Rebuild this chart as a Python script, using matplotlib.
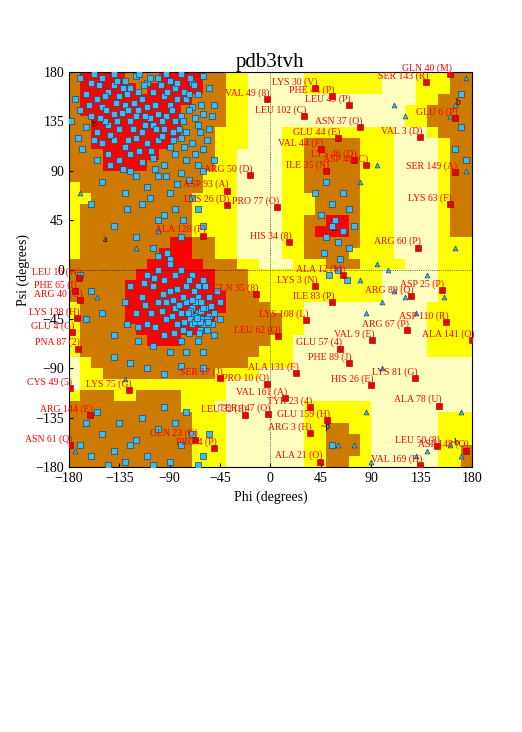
import re
import numpy as np
import matplotlib
matplotlib.use('Agg')
import matplotlib.pyplot as plt

plt.rcParams['font.family'] = ['Liberation Serif', 'DejaVu Serif']

# region map, 10 degree cells, rows psi 180 -> -180, run-length coded
# R core, B allowed, Y generous, P disallowed
region_rows = [
    "B1R4B3R4B2Y2P5Y7P3Y3B2", "B1R5B1R5B2Y2P5Y7P3Y3B2", "B1R10B3Y2P15Y2B3",
    "B1R9B4Y2P14Y2B4", "B2R8B4Y2P14Y2B4", "B2R8B3Y3P3Y10P3Y1B3",
    "B2R7B4Y3P3Y2B5Y3P4Y1B2", "B3R5B5Y2P4Y2B5Y3P4Y1B2", "B3R4B6Y2P4Y2B5Y3P4Y1B2",
    "B12Y3P4Y2B5Y3P4Y1B2", "Y1B11Y3P4Y2B5Y3P4Y1B2", "Y2B9Y4P4Y3B4Y3P4Y1B2",
    "Y1B10Y4P4Y3B4Y3P4Y1B2", "Y1B10Y4P4Y2B2R2B1Y3P4Y1B2", "Y1B10Y4P4Y2B1R3B1Y3P4Y1B2",
    "Y1B8R2B2Y2P4Y2B5Y3P4Y3", "Y1B7R3B2Y2P4Y2B4Y4P4Y3", "B7R5B3Y2P3Y3B3Y4P3Y3",
    "B6R7B3Y12P5Y3", "B5R8B3Y12P5Y3", "B5R9B3Y11P5Y3",
    "Y1B4R9B4Y3P11Y4", "Y1B4R8B6Y2P11Y4", "Y1B5R6B7Y2P11Y4",
    "Y1B6R3B8Y2P12Y4", "Y1B16Y3P12Y4", "P1Y1B14Y4P16",
    "P1Y2B10Y4P19", "P1Y13P22", "Y1B3Y2B4Y4P22",
    "B10Y3P8Y6P9", "B11Y3P7Y6P6Y3", "B11Y3P7Y2B2Y2P6Y3",
    "B11Y3P7Y2B3Y1P6Y3", "B11Y3P7Y2B3Y1P6Y2B1", "B11Y3P7Y2B2Y2P6Y2B1",
]
region_colors = {'R': '#ff0000', 'B': '#cc7a00', 'Y': '#ffff00', 'P': '#ffffc0'}

beta_pts = [(-170,175),(-160,170),(-150,175),(-140,178),(-130,172),(-120,176),(-110,170),(-100,175),(-90,172),(-80,178),(-70,170),(-60,176),
    (-165,160),(-155,155),(-145,162),(-135,158),(-125,165),(-115,155),(-105,162),(-95,158),(-85,165),(-75,155),(-65,160),(-55,165),
    (-170,145),(-160,140),(-150,148),(-140,142),(-130,150),(-120,140),(-110,148),(-100,142),(-90,150),(-80,140),(-70,148),(-60,142),(-50,150),
    (-165,130),(-155,125),(-145,132),(-135,128),(-125,135),(-115,125),(-105,132),(-95,128),(-85,135),(-75,125),(-65,132),(-55,128),
    (-150,115),(-140,118),(-130,112),(-120,120),(-110,115),(-100,118),(-90,112),(-80,120),(-70,115),(-60,110),
    (-135,100),(-125,105),(-115,98),(-105,102),(-95,95),(-85,105),(-75,100),(-65,95),
    (-140,168),(-128,160),(-118,145),(-108,138),(-98,168),(-88,145),(-78,135),(-68,168),(-148,135),(-138,152),(-123,128),(-113,168),
    (-103,150),(-93,140),(-83,155),(-73,145),(-63,125),(-158,118),(-145,105),(-132,92),(-120,85),(-100,85),(-80,88),(-60,90),(-50,100),
    (-175,155),(-178,135),(-172,120),(-110,75),(-90,70),(-130,70),(-70,65),(-150,80),(-115,60),(-85,55),(-100,45),(-140,40),(-120,30),
    (-80,30),(-60,40),(-160,60),(-105,20),(-90,10),(-133,143),(-143,123),(-153,168),(-117,178),(-97,122),(-87,118),(-77,162),(-67,138),
    (-57,118),(-127,118),(-137,172),(-107,108),(-162,150),(-152,138),(-112,132),(-92,162),(-72,175),(-82,128),(-122,152),(-102,128),
    (-158,178),(-148,158),(-132,165),(-118,162),(-108,175),(-93,178),(-83,170),(-73,160),(-62,150),(-52,140),(-147,145),(-137,135),
    (-127,145),(-112,140),(-97,135),(-87,125),(-77,112),(-67,105),(-117,108),(-103,92),(-93,85),(-83,78),(-73,82),(-143,95),(-155,100),
    (-168,110),(-125,90),(-108,65),(-95,50),(-78,45),(-65,55),(-128,55)]
alpha_pts = [(-65,-40),(-60,-45),(-70,-35),(-62,-38),(-68,-42),(-58,-35),(-72,-45),(-55,-42),(-75,-30),(-65,-25),(-60,-50),(-70,-50),
    (-80,-40),(-78,-25),(-85,-35),(-90,-20),(-95,-10),(-85,-5),(-75,-15),(-65,-15),(-55,-25),(-50,-40),(-52,-50),(-63,-55),(-73,-58),
    (-83,-50),(-93,-45),(-100,-30),(-105,-15),(-110,-5),(-100,0),(-90,5),(-80,0),(-70,-5),(-60,-10),(-115,-25),(-120,-40),(-110,-50),
    (-95,-60),(-80,-65),(-65,-65),(-50,-60),(-45,-45),(-45,-30),(-48,-20),(-58,-15),(-67,-30),(-77,-48),(-87,-28),(-97,-38),(-107,-40),
    (-67,-48),(-57,-55),(-125,-15),(-130,-30),(-128,-50),(-118,-65),(-105,-70),(-90,-75),(-75,-75),(-60,-75),(-140,-60),(-150,-40),
    (-160,-20),(-140,-80),(-125,-85),(-110,-90),(-95,-95),(-80,-88),(-60,-90),(-170,-5),(-165,-45),(-62,-30),(-72,-38),(-57,-45),
    (-68,-20),(-78,-55),(-88,-42),(-53,-33),(-63,-48),(-73,-10),(-83,-18),(-93,-30),(-103,-52),(-113,-12),(-92,15),(-100,12),
    (-60,-35),(-66,-44),(-70,-28),(-74,-40),(-56,-48),(-64,-58),(-82,-32),(-86,-58),(-96,-22),(-104,-8),(-112,-32),(-118,-52)]
lower_pts = [(-170,-160),(-160,-170),(-150,-150),(-140,-165),(-130,-175),(-120,-155),(-110,-170),(-100,-145),(-90,-175),(-80,-160),
    (-70,-150),(-60,-170),(-155,-130),(-135,-140),(-115,-135),(-95,-125),(-75,-130),(-165,-140),(-145,-178),(-125,-160),(-105,-178),
    (-85,-140),(-65,-178),(-55,-150),(50,30),(55,40),(60,25),(65,35),(58,45),(45,50),(70,20),(48,15),(62,10),(55,60),(40,70),(50,80),
    (70,55),(65,70),(75,40),(60,0),(52,-5),(68,-10),(165,110),(170,130),(175,100),(170,160),(55,-160)]
gly_pts = [(80,-10),(95,5),(110,-20),(120,-25),(100,-30),(130,-40),(165,20),(170,-130),(165,150),(175,90),(100,-90),(75,-160),
    (90,-175),(130,-170),(140,-165),(160,-160),(170,-170),(-170,70),(-130,-100),(-100,35),(-120,20),(60,-160),(45,-175),(85,-130),
    (-155,-25),(-175,-165),(110,150),(120,140),(175,175),(80,80),(95,95),(155,-25),(160,140),(140,-5),(105,0),(85,-40)]

out_phi = [-3,-18,-39,-39,6,17,-60,132,134,139,160,165,165,160,-171,-175,-170,-173,-177,-172,-13,7,23,-3,13,-2,-45,-126,-179,-161,
    -23,-67,-50,-179,51,35,44,149,134,175,151,129,153,157,180,122,91,62,32,126,40,55,70,30,80,60,45,75,85,50,65,40,55,70,90,35]
out_psi = [155,86,72,59,57,25,31,20,121,171,178,138,89,60,-8,-20,-28,-44,-57,-72,-22,-61,-94,-104,-117,-132,-99,-110,-108,-133,
    -133,-155,-163,-160,-137,-149,-175,-161,-178,-165,-124,-99,-19,-48,-64,-55,-64,-72,-46,-24,165,158,150,140,130,120,110,100,95,
    90,-5,-15,-30,-85,-105,-125]
out_lab = ['VAL 49 (8)','ARG 50 (D)','ASP 93 (A)','LYS 26 (D)','PRO 77 (O)','HIS 34 (8)','ALA 128 (F)','ARG 60 (P)','VAL 3 (D)',
    'SER 143 (R)','GLN 40 (M)','GLU 6 (P)','SER 149 (A)','LYS 63 (F)','LEU 16 (W)','PHE 65 (I)','ARG 40 (U)','LYS 138 (H)',
    'GLU 4 (G)','PNA 87 (2)','CLN 35 (8)','LEU 62 (O)','ALA 131 (F)','PRO 10 (O)','VAL 161 (A)','TER 147 (O)','SER 17 (J)',
    'LYS 75 (G)','CYS 49 (5)','ARG 144 (E)','LEU 32 (E)','GLN 23 (O)','PRO 4 (P)','ASN 61 (Q)','GLU 159 (H)','ARG 3 (H)',
    'ALA 21 (O)','LEU 50 (8)','VAL 169 (H)','ASP 148 (O)','ALA 78 (U)','LYS 81 (G)','ASP 25 (P)','ASP 110 (R)','ALA 141 (O)',
    'ARG 67 (P)','VAL 9 (E)','GLU 57 (4)','LYS 108 (L)','ARG 89 (Q)','LYS 30 (V)','PHE 44 (P)','LEU 49 (P)','LEU 102 (C)',
    'ASN 37 (O)','GLU 44 (E)','VAL 44 (F)','LYS 46 (D)','ASP 46 (C)','ILE 35 (N)','ALA 12 (M)','LYS 3 (N)','ILE 83 (P)',
    'PHE 89 (J)','HIS 26 (E)','TYR 23 (4)']

fig = plt.figure(figsize=(5.22, 7.32), dpi=100)
ax = fig.add_axes([0.132, 0.362, 0.772, 0.5396])

grid = []
for row in region_rows:
    cells = []
    for code, n in re.findall(r'([RBYP])(\d+)', row):
        cells += [code] * int(n)
    grid.append([matplotlib.colors.to_rgb(region_colors[c]) for c in cells[:36]])
ax.imshow(np.array(grid), extent=[-180, 180, -180, 180], origin='upper', aspect='auto', interpolation='nearest', zorder=0)
ax.axhline(0, color='black', lw=0.5, ls=':', zorder=1)
ax.axvline(0, color='black', lw=0.5, ls=':', zorder=1)

for pts in (beta_pts, alpha_pts, lower_pts):
    a = np.array(pts)
    ax.scatter(a[:, 0], a[:, 1], marker='s', s=20, c='#40b8f0', edgecolors='#1a4a70', linewidths=0.5, zorder=3)
g = np.array(gly_pts)
ax.scatter(g[:, 0], g[:, 1], marker='^', s=12, c='#40b8f0', edgecolors='#1a4a70', linewidths=0.5, zorder=3)
ax.scatter(out_phi, out_psi, marker='s', s=14, c='#ee0000', edgecolors='#800000', linewidths=0.4, zorder=4)
for x, y, t in zip(out_phi, out_psi, out_lab):
    ax.text(x + 2, y + 1, t, color='red', fontsize=7, ha='right', va='bottom', zorder=5, clip_on=False)

for x, y, t in [(-160, 130, 'b'), (-150, 25, 'a'), (165, 150, 'b'), (55, 35, 'L'), (45, -145, '~p'), (160, -160, '~b')]:
    ax.text(x, y, t, fontsize=7, color='black', zorder=2)

ticks = [-180, -135, -90, -45, 0, 45, 90, 135, 180]
ax.set_xlim(-180, 180)
ax.set_ylim(-180, 180)
ax.set_xticks(ticks)
ax.set_yticks(ticks)
ax.tick_params(labelsize=10, direction='in', length=3)
ax.set_xlabel('Phi (degrees)', fontsize=10)
ax.set_ylabel('Psi (degrees)', fontsize=10)
ax.set_title('pdb3tvh', fontsize=15, pad=2)
fig.savefig('out.png', dpi=100)
